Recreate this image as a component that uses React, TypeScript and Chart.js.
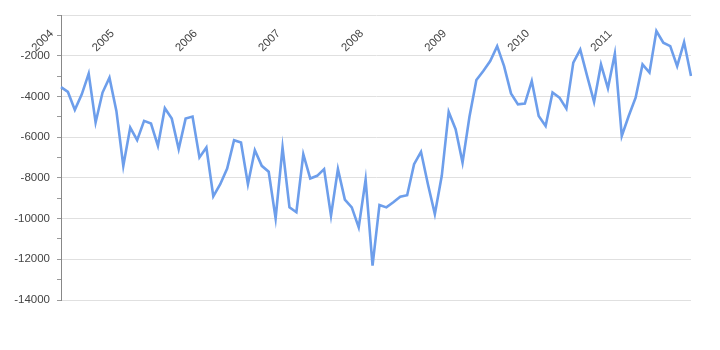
import React, { useEffect, useRef } from "react";
import { Chart, registerables } from "chart.js";

Chart.register(...registerables);

// Monthly categories
const months: string[] = [
  "2004-08", "2004-09", "2004-10", "2004-11", "2004-12",
  "2005-01", "2005-02", "2005-03", "2005-04", "2005-05", "2005-06", "2005-07", "2005-08", "2005-09", "2005-10", "2005-11", "2005-12",
  "2006-01", "2006-02", "2006-03", "2006-04", "2006-05", "2006-06", "2006-07", "2006-08", "2006-09", "2006-10", "2006-11", "2006-12",
  "2007-01", "2007-02", "2007-03", "2007-04", "2007-05", "2007-06", "2007-07", "2007-08", "2007-09", "2007-10", "2007-11", "2007-12",
  "2008-01", "2008-02", "2008-03", "2008-04", "2008-05", "2008-06", "2008-07", "2008-08", "2008-09", "2008-10", "2008-11", "2008-12",
  "2009-01", "2009-02", "2009-03", "2009-04", "2009-05", "2009-06", "2009-07", "2009-08", "2009-09", "2009-10", "2009-11", "2009-12",
  "2010-01", "2010-02", "2010-03", "2010-04", "2010-05", "2010-06", "2010-07", "2010-08", "2010-09", "2010-10", "2010-11", "2010-12",
  "2011-01", "2011-02", "2011-03", "2011-04", "2011-05", "2011-06", "2011-07", "2011-08", "2011-09", "2011-10", "2011-11", "2011-12",
  "2012-01", "2012-02", "2012-03",
];

// Series values
const values: number[] = [
  -3540, -3780, -4660, -3900, -2880,
  -5280, -3810, -3080, -4710, -7410, -5530, -6150, -5200, -5330, -6430, -4580, -5090,
  -6590, -5090, -4990, -7000, -6510, -8910, -8310, -7540, -6150, -6260, -8310, -6640,
  -7410, -7700, -9990, -6510, -9450, -9690, -6840, -8030, -7900, -7570, -9860, -7570,
  -9070, -9450, -10430, -8090, -12310, -9330, -9450, -9200, -8930, -8850, -7330, -6720,
  -8310, -9780, -7900, -4760, -5610, -7250, -5000, -3190, -2750, -2260, -1530, -2510,
  -3850, -4390, -4350, -3240, -4960, -5450, -3810, -4060, -4600, -2340, -1700, -3000,
  -4270, -2430, -3600, -1900, -5940, -4960, -4060, -2430, -2830, -790, -1360, -1530,
  -2510, -1330, -3000,
];

// Tick labels
const yearTickLabels: string[] = ["2004", "2005", "2006", "2007", "2008", "2009", "2010", "2011"];
const yearTickMonths: string[] = ["2004-01", "2005-01", "2006-01", "2007-01", "2008-01", "2009-01", "2010-01", "2011-01"];

const FONT_FAMILY = "'Liberation Sans', Arial, sans-serif";
const TEXT_COLOR = "#444444";

const yearLabelPlugin = {
  id: "yearLabels",
  afterDraw(chart: any) {
    const { ctx, chartArea, scales } = chart;
    const xs = scales.x;
    ctx.save();
    ctx.font = `11.5px ${FONT_FAMILY}`;
    ctx.fillStyle = TEXT_COLOR;
    ctx.textAlign = "left";
    ctx.textBaseline = "alphabetic";
    yearTickLabels.forEach((lab, i) => {
      const idx = months.indexOf(yearTickMonths[i]);
      const px = idx >= 0 ? xs.getPixelForValue(idx) + 1 : chartArea.left - 25;
      const py = chartArea.top + 37;
      ctx.save();
      ctx.translate(px, py);
      ctx.rotate(-Math.PI / 4);
      ctx.fillText(lab, 0, 0);
      ctx.restore();
    });
    ctx.restore();
  },
};

export default function App() {
  const canvasRef = useRef<HTMLCanvasElement | null>(null);

  useEffect(() => {
    const canvas = canvasRef.current;
    if (!canvas) return;
    const chart = new Chart(canvas, {
      type: "line",
      data: {
        labels: months,
        datasets: [
          {
            data: values,
            borderColor: "#6d9eeb",
            borderWidth: 2.6,
            pointRadius: 0,
            tension: 0,
            fill: false,
          },
        ],
      },
      options: {
        responsive: false,
        maintainAspectRatio: false,
        animation: false,
        layout: { padding: { top: 15, right: 29, bottom: 50, left: 0 } },
        plugins: { legend: { display: false }, tooltip: { enabled: false } },
        scales: {
          x: {
            type: "category",
            display: false,
            offset: false,
          },
          y: {
            min: -14000,
            max: 0,
            afterFit: (s: any) => {
              s.width = 61;
            },
            ticks: {
              stepSize: 1000,
              autoSkip: false,
              padding: 7,
              color: TEXT_COLOR,
              font: { family: FONT_FAMILY, size: 11.5 },
              callback: (v: any) => {
                const n = Number(v);
                return n % 2000 === 0 && n !== 0 ? String(n) : "";
              },
            },
            grid: {
              color: (c: any) =>
                c.tick && Number(c.tick.value) % 2000 === 0 ? "#e0e0e0" : "rgba(0,0,0,0)",
              tickColor: "#999999",
              tickLength: 4,
              drawTicks: true,
            },
            border: { display: true, color: "#888888", width: 1 },
          },
        },
      },
      plugins: [yearLabelPlugin],
    });
    return () => chart.destroy();
  }, []);

  return (
    <div style={{ position: "absolute", left: 0, top: 0, width: 720, height: 350, background: "#fff" }}>
      <canvas ref={canvasRef} width={720} height={350} style={{ display: "block" }} />
    </div>
  );
}
